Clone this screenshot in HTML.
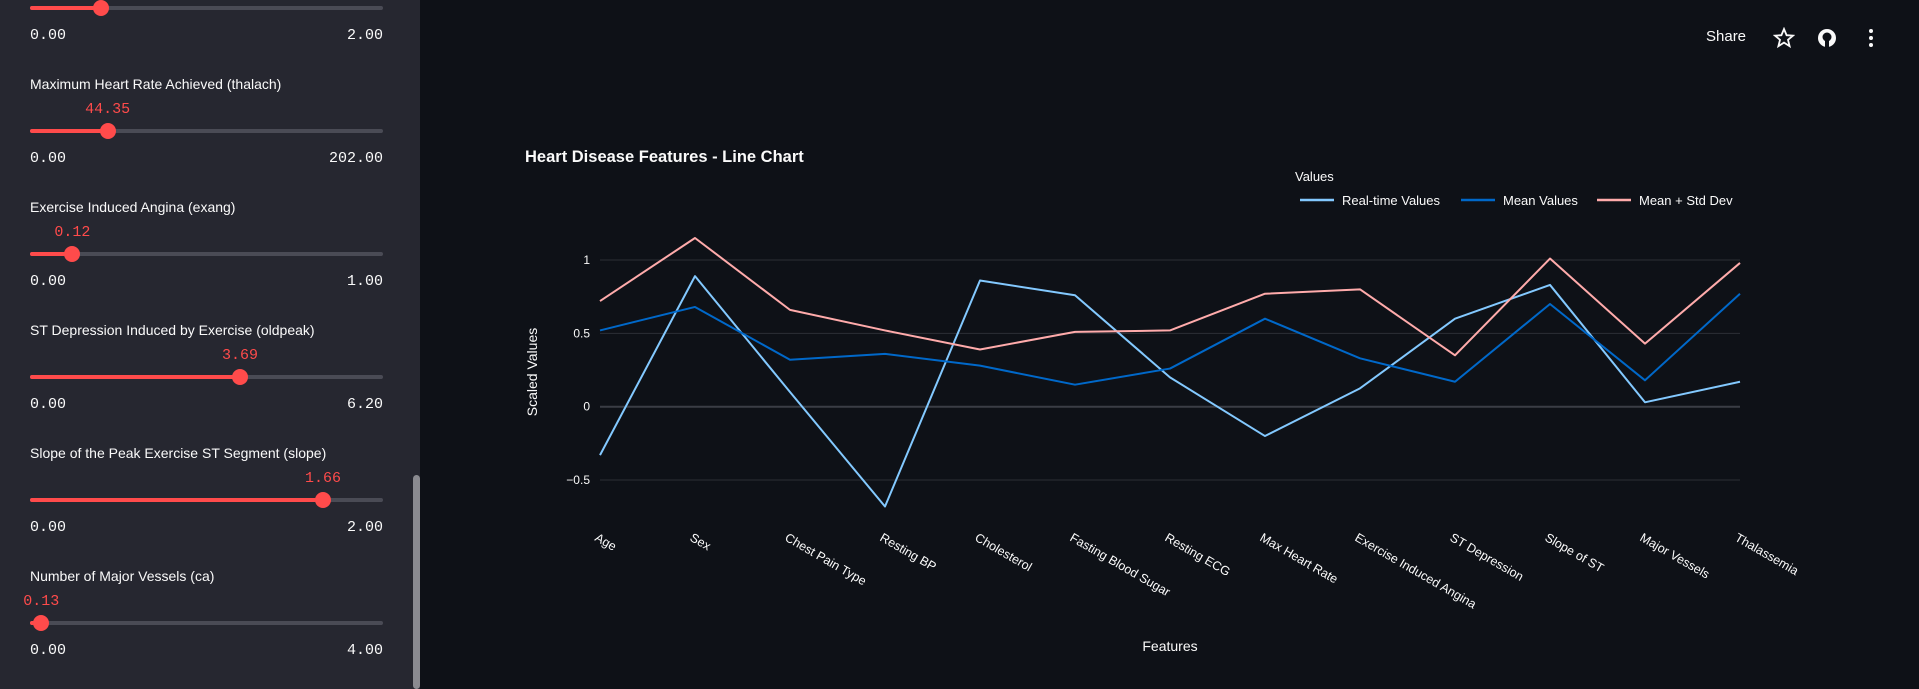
<!DOCTYPE html>
<html><head><meta charset="utf-8"><style>
body{margin:0;width:1919px;height:689px;background:#0e1117;overflow:hidden;font-family:"Liberation Sans",sans-serif;position:relative}
#sidebar{position:absolute;left:0;top:0;width:420px;height:689px;background:#262730}
.lbl{position:absolute;left:30px;color:#fafafa;font-size:14px}
.val{position:absolute;color:#ff4b4b;font-family:"Liberation Mono",monospace;font-size:15px;transform:translateX(-50%)}
.mm{position:absolute;color:#fafafa;font-family:"Liberation Mono",monospace;font-size:15px}
.track{position:absolute;left:30px;width:353px;height:4px;border-radius:2px;background:#4a4b55}
.fill{position:absolute;left:0;top:0;height:4px;background:#ff4b4b;border-radius:2px}
.thumb{position:absolute;top:-6px;width:16px;height:16px;border-radius:50%;background:#ff4b4b;margin-left:-8px}
#scroll{position:absolute;left:413px;top:475px;width:7px;height:214px;background:#8a8a90;border-radius:4px}
.hdr{position:absolute;color:#fafafa;font-size:15px}
</style></head><body>
<div id="sidebar"></div>
<div id="scroll"></div>
<div class="hdr" style="left:1706px;top:28px">Share</div>
<svg style="position:absolute;left:1773px;top:27px" width="22" height="22"><polygon points="11,2 13.6,8.2 20,8.6 15,12.8 16.6,19.2 11,15.6 5.4,19.2 7,12.8 2,8.6 8.4,8.2" fill="none" stroke="#fafafa" stroke-width="1.8"/></svg>
<svg style="position:absolute;left:1816px;top:27px" width="22" height="22"><circle cx="11" cy="11" r="9" fill="#fafafa"/><circle cx="11" cy="10" r="4.5" fill="#0e1117"/><rect x="9" y="14" width="4" height="6" fill="#0e1117"/></svg>
<svg style="position:absolute;left:1863px;top:27px" width="16" height="22"><circle cx="8" cy="4" r="2" fill="#fafafa"/><circle cx="8" cy="11" r="2" fill="#fafafa"/><circle cx="8" cy="18" r="2" fill="#fafafa"/></svg>
<div id="sliders"></div>
<svg id="chart" width="1919" height="689" style="position:absolute;left:0;top:0"></svg>
<script>
const sliders=[
 {label:null,val:null,min:"0.00",max:"2.00",pos:0.2,top:-115},
 {label:"Maximum Heart Rate Achieved (thalach)",val:"44.35",min:"0.00",max:"202.00",pos:0.22,top:8},
 {label:"Exercise Induced Angina (exang)",val:"0.12",min:"0.00",max:"1.00",pos:0.12,top:131},
 {label:"ST Depression Induced by Exercise (oldpeak)",val:"3.69",min:"0.00",max:"6.20",pos:0.595,top:254},
 {label:"Slope of the Peak Exercise ST Segment (slope)",val:"1.66",min:"0.00",max:"2.00",pos:0.83,top:377},
 {label:"Number of Major Vessels (ca)",val:"0.13",min:"0.00",max:"4.00",pos:0.032,top:500}];
const sc=document.getElementById('sliders');
sliders.forEach(s=>{
 const t=s.top;const tx=30+353*s.pos;
 let h='';
 if(s.label)h+=`<div class="lbl" style="top:${t+68}px">${s.label}</div>`;
 if(s.val)h+=`<div class="val" style="left:${tx}px;top:${t+93}px">${s.val}</div>`;
 h+=`<div class="track" style="top:${t+121}px"><div class="fill" style="width:${353*s.pos}px"></div><div class="thumb" style="left:${353*s.pos}px"></div></div>`;
 h+=`<div class="mm" style="left:30px;top:${t+142}px">${s.min}</div>`;
 h+=`<div class="mm" style="right:${1919-383}px;top:${t+142}px">${s.max}</div>`;
 sc.insertAdjacentHTML('beforeend',h);
});

const categories=["Age","Sex","Chest Pain Type","Resting BP","Cholesterol","Fasting Blood Sugar","Resting ECG","Max Heart Rate","Exercise Induced Angina","ST Depression","Slope of ST","Major Vessels","Thalassemia"];
const realtime=[-0.33,0.89,0.1,-0.68,0.86,0.76,0.2,-0.2,0.125,0.6,0.83,0.03,0.17];
const meanVals=[0.52,0.68,0.32,0.36,0.28,0.15,0.26,0.6,0.33,0.17,0.7,0.18,0.77];
const meanStd=[0.72,1.15,0.66,0.52,0.39,0.51,0.52,0.77,0.8,0.35,1.01,0.43,0.98];
const yTicks=[-0.5,0,0.5,1];
const yTickLabels=["−0.5","0","0.5","1"];

const svg=document.getElementById('chart');const NS='http://www.w3.org/2000/svg';
function el(tag,attrs,txt){const e=document.createElementNS(NS,tag);for(const k in attrs)e.setAttribute(k,attrs[k]);if(txt!=null)e.textContent=txt;svg.appendChild(e);return e;}
const X0=600,X1=1740,Y0=406.7,YU=146.7;
const xs=i=>X0+i*(X1-X0)/(categories.length-1);
const ys=v=>Y0-v*YU;
const F='"Liberation Sans",sans-serif';
yTicks.forEach((v,i)=>{
 const g=el('line',{x1:X0,x2:X1,y1:ys(v),y2:ys(v),stroke:v===0?'#3a3d45':'#2c2f36','stroke-width':v===0?2:1});
 
 
 const t=el('text',{x:590,y:ys(v)+4,'text-anchor':'end',fill:'#fafafa','font-size':12,'font-family':F},yTickLabels[i]);
 
 
});
categories.forEach((c,i)=>{
 const t=el('text',{transform:`translate(${xs(i)-6},${540}) rotate(30)`,fill:'#fafafa','font-size':12.5,'font-family':F},c);
 
 
});
const series=[[realtime,'#83c9ff','series-realtime'],[meanVals,'#0068c9','series-mean'],[meanStd,'#ffabab','series-mean-std']];
series.forEach(([d,c,n])=>{
 const p=el('polyline',{points:d.map((v,i)=>xs(i)+','+ys(v)).join(' '),fill:'none',stroke:c,'stroke-width':2,'stroke-linejoin':'round'});
 
 
});
let t;
t=el('text',{x:525,y:162,fill:'#fafafa','font-size':16.5,'font-weight':'bold','font-family':F},'Heart Disease Features - Line Chart');

t=el('text',{transform:'translate(537,372) rotate(-90)','text-anchor':'middle',fill:'#fafafa','font-size':14,'font-family':F},'Scaled Values');

t=el('text',{x:1170,y:651,'text-anchor':'middle',fill:'#fafafa','font-size':14,'font-family':F},'Features');

t=el('text',{x:1295,y:181,fill:'#fafafa','font-size':13,'font-family':F},'Values');

const legendNames=["Real-time Values","Mean Values","Mean + Std Dev"];
const legX=[1300,1461,1597];
series.forEach(([d,c],i)=>{
 const l=el('line',{x1:legX[i],x2:legX[i]+34,y1:200,y2:200,stroke:c,'stroke-width':2.5});
 
 const tt=el('text',{x:legX[i]+42,y:205,fill:'#fafafa','font-size':13,'font-family':F},legendNames[i]);
 
});
</script>
</body></html>
